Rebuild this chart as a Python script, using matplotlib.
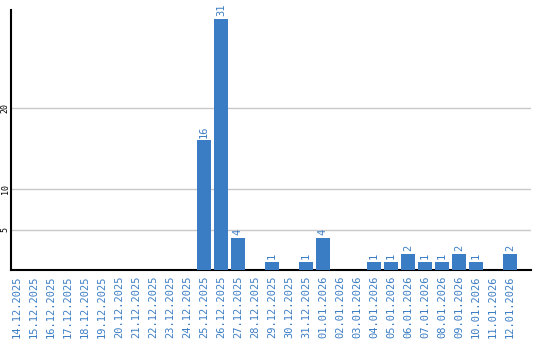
import matplotlib
matplotlib.use("Agg")
import matplotlib.pyplot as plt

dates = ["14.12.2025", "15.12.2025", "16.12.2025", "17.12.2025", "18.12.2025",
         "19.12.2025", "20.12.2025", "21.12.2025", "22.12.2025", "23.12.2025",
         "24.12.2025", "25.12.2025", "26.12.2025", "27.12.2025", "28.12.2025",
         "29.12.2025", "30.12.2025", "31.12.2025", "01.01.2026", "02.01.2026",
         "03.01.2026", "04.01.2026", "05.01.2026", "06.01.2026", "07.01.2026",
         "08.01.2026", "09.01.2026", "10.01.2026", "11.01.2026", "12.01.2026"]
values = [0, 0, 0, 0, 0, 0, 0, 0, 0, 0, 0, 16, 31, 4, 0, 1, 0, 1, 4, 0,
          0, 1, 1, 2, 1, 1, 2, 1, 0, 2]
yticks = [5, 10, 20]

blue = "#3b7dc4"
mono = "DejaVu Sans Mono"
fig = plt.figure(figsize=(5.4, 3.4), dpi=100)
ax = fig.add_axes([11/540, 1 - 270/340, 520/540, 260/340])
x = list(range(len(dates)))
ax.bar(x, values, width=0.82, color=blue, zorder=3)
for xi, v in zip(x, values):
    if v > 0:
        ax.text(xi, v + 0.3, str(v), rotation=90, ha="center", va="bottom",
                color=blue, fontsize=7.5, family=mono)
ax.set_xlim(-0.35, 30.24)
ax.set_ylim(0, 32.1)
ax.set_yticks(yticks)
ax.set_yticklabels([str(t) for t in yticks], rotation=90, va="center",
                   fontsize=6, family=mono)
ax.set_xticks(x)
ax.set_xticklabels(dates, rotation=90, fontsize=7.5, color=blue, family=mono)
ax.tick_params(axis="x", length=0, pad=4)
ax.tick_params(axis="y", length=0, pad=1)
ax.grid(axis="y", color="#c8c8c8", linewidth=1, zorder=0)
for s in ["top", "right"]:
    ax.spines[s].set_visible(False)
for s in ["left", "bottom"]:
    ax.spines[s].set_color("black")
    ax.spines[s].set_linewidth(1.5)
fig.savefig("out.png", dpi=100)
